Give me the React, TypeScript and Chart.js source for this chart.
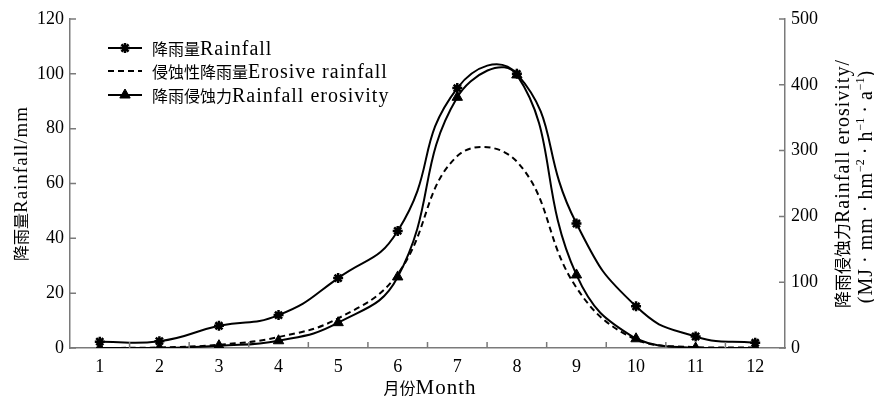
import React, { useEffect, useRef } from 'react';
import { Chart, registerables } from 'chart.js';
import { drawPoint } from 'chart.js/helpers';

Chart.register(...registerables);

// ---------- data ----------
const MONTHS = ['1', '2', '3', '4', '5', '6', '7', '8', '9', '10', '11', '12'];
const RAINFALL = [2.3, 2.5, 8.1, 12.0, 25.5, 42.7, 94.8, 100.0, 45.4, 15.2, 4.2, 1.9];
const EROSIVE_RAINFALL = [0, 0.2, 1.2, 4.0, 10.8, 27.0, 70.0, 68.0, 22.0, 3.0, 0.3, 0.2];
const EROSIVITY = [0, 0, 3.5, 11, 38.5, 108, 381, 415, 111, 14, 0, 0];
const LEFT_TICKS = [0, 20, 40, 60, 80, 100, 120];
const RIGHT_TICKS = [0, 100, 200, 300, 400, 500];
const LEGEND_LABELS = ['降雨量Rainfall', '侵蚀性降雨量Erosive rainfall', '降雨侵蚀力Rainfall erosivity'];
const X_TITLE = '月份Month';
const Y_TITLE = '降雨量Rainfall/mm';
const Y1_TITLE_1 = '降雨侵蚀力Rainfall erosivity/';
const Y1_TITLE_2: { t: string; sup?: boolean }[] = [
  { t: '(MJ\u2009·\u2009mm\u2009·\u2009hm' }, { t: '−2', sup: true }, { t: '\u2009·\u2009h' }, { t: '−1', sup: true },
  { t: '\u2009·\u2009a' }, { t: '−1', sup: true }, { t: ')' },
];

const LAT = "'Liberation Serif', 'Times New Roman', serif";
const CJK = "'Noto Sans CJK SC', sans-serif";
const AXIS_GRAY = '#7a7a7a';
const CJK_RE = /[\u3000-\u9fff\uff00-\uffef]/;

type Seg = { t: string; sup?: boolean };
type Piece = { t: string; font: string; dy: number; ls: number };

function toPieces(segs: Seg[], cjk: number, lat: number, ls: number): Piece[] {
  const out: Piece[] = [];
  for (const s of segs) {
    if (s.sup) {
      out.push({ t: s.t, font: `${Math.round(lat * 0.62)}px ${LAT}`, dy: -lat * 0.4, ls: 0 });
      continue;
    }
    let cur = '';
    let curCjk: boolean | null = null;
    for (const ch of s.t) {
      const c = CJK_RE.test(ch);
      if (curCjk === null || c === curCjk) {
        cur += ch;
        curCjk = c;
      } else {
        out.push({ t: cur, font: curCjk ? `${cjk}px ${CJK}` : `${lat}px ${LAT}`, dy: 0, ls: curCjk ? 0 : ls });
        cur = ch;
        curCjk = c;
      }
    }
    if (cur) out.push({ t: cur, font: curCjk ? `${cjk}px ${CJK}` : `${lat}px ${LAT}`, dy: 0, ls: curCjk ? 0 : ls });
  }
  return out;
}

function drawRuns(ctx: CanvasRenderingContext2D, segs: Seg[], x: number, y: number, cjk: number, lat: number, ls: number, align: 'left' | 'center') {
  const pieces = toPieces(segs, cjk, lat, ls);
  const anyCtx = ctx as any;
  const widths = pieces.map((p) => {
    ctx.font = p.font;
    anyCtx.letterSpacing = `${p.ls}px`;
    return ctx.measureText(p.t).width;
  });
  const total = widths.reduce((a, b) => a + b, 0);
  let cx = align === 'center' ? x - total / 2 : x;
  ctx.textAlign = 'left';
  ctx.textBaseline = 'alphabetic';
  ctx.fillStyle = '#000';
  pieces.forEach((p, i) => {
    ctx.font = p.font;
    anyCtx.letterSpacing = `${p.ls}px`;
    ctx.fillText(p.t, cx, y + p.dy);
    cx += widths[i];
  });
  anyCtx.letterSpacing = '0px';
}

const decorPlugin = {
  id: 'decor',
  afterDraw(chart: any) {
    const ctx: CanvasRenderingContext2D = chart.ctx;
    const area = chart.chartArea;
    const sx = chart.scales.x;
    const sy = chart.scales.y;
    const sy1 = chart.scales.y1;
    ctx.save();

    // inward tick marks
    ctx.strokeStyle = AXIS_GRAY;
    ctx.lineWidth = 1.5;
    const TL = 6;
    ctx.beginPath();
    LEFT_TICKS.forEach((v) => {
      const py = sy.getPixelForValue(v);
      ctx.moveTo(area.left, py);
      ctx.lineTo(area.left + TL, py);
    });
    RIGHT_TICKS.forEach((v) => {
      const py = sy1.getPixelForValue(v);
      ctx.moveTo(area.right, py);
      ctx.lineTo(area.right - TL, py);
    });
    for (let i = 0; i < MONTHS.length - 1; i++) {
      const px = sx.getPixelForValue(i + 0.5);
      ctx.moveTo(px, area.bottom);
      ctx.lineTo(px, area.bottom - TL);
    }
    ctx.stroke();

    // legend
    const rows = [area.top + 29, area.top + 52, area.top + 76];
    const lx0 = area.left + 38;
    const lx1 = area.left + 72;
    chart.data.datasets.forEach((ds: any, i: number) => {
      const y = rows[i];
      ctx.save();
      ctx.strokeStyle = '#000';
      ctx.fillStyle = '#000';
      ctx.lineWidth = ds.borderWidth;
      ctx.setLineDash(ds.borderDash || []);
      ctx.beginPath();
      ctx.moveTo(lx0, y);
      ctx.lineTo(lx1, y);
      ctx.stroke();
      ctx.setLineDash([]);
      if (ds.pointRadius > 0) {
        ctx.lineWidth = ds.pointBorderWidth;
        drawPoint(ctx, { pointStyle: ds.pointStyle, radius: ds.pointRadius, borderWidth: ds.pointBorderWidth, rotation: 0 } as any, (lx0 + lx1) / 2, y);
      }
      ctx.restore();
      drawRuns(ctx, [{ t: LEGEND_LABELS[i] }], area.left + 82, y + 7, 16, 20, 1, 'left');
    });

    // x title
    drawRuns(ctx, [{ t: X_TITLE }], 430, 394, 16, 21, 1, 'center');

    // left y title
    const midY = (area.top + area.bottom) / 2;
    ctx.save();
    ctx.translate(20, midY);
    ctx.rotate(-Math.PI / 2);
    drawRuns(ctx, [{ t: Y_TITLE }], 0, 7, 16, 19, 1, 'center');
    ctx.restore();

    // right y title (two lines)
    ctx.save();
    ctx.translate(842, midY);
    ctx.rotate(-Math.PI / 2);
    drawRuns(ctx, [{ t: Y1_TITLE_1 }], 0, 7, 17, 20, 1, 'center');
    ctx.restore();
    ctx.save();
    ctx.translate(865, midY + 3);
    ctx.rotate(-Math.PI / 2);
    drawRuns(ctx, Y1_TITLE_2, 0, 7, 17, 20, 1, 'center');
    ctx.restore();

    ctx.restore();
  },
};

export default function App() {
  const ref = useRef<HTMLCanvasElement>(null);
  useEffect(() => {
    const tickFont = { family: LAT, size: 18 };
    const chart = new Chart(ref.current!, {
      type: 'line',
      data: {
        labels: MONTHS,
        datasets: [
          {
            label: LEGEND_LABELS[0],
            data: RAINFALL,
            yAxisID: 'y',
            borderColor: '#000',
            backgroundColor: '#000',
            borderWidth: 2,
            pointStyle: 'star',
            pointRadius: 5,
            pointBorderWidth: 2.5,
            pointBorderColor: '#000',
            tension: 0.5,
          },
          {
            label: LEGEND_LABELS[1],
            data: EROSIVE_RAINFALL,
            yAxisID: 'y',
            borderColor: '#000',
            borderWidth: 2,
            borderDash: [6, 4],
            pointRadius: 0,
            tension: 0.42,
          },
          {
            label: LEGEND_LABELS[2],
            data: EROSIVITY,
            yAxisID: 'y1',
            borderColor: '#000',
            backgroundColor: '#000',
            borderWidth: 2,
            pointStyle: 'triangle',
            pointRadius: 6,
            pointBorderWidth: 1,
            pointBackgroundColor: '#000',
            pointBorderColor: '#000',
            tension: 0.45,
          },
        ] as any,
      },
      options: {
        responsive: false,
        animation: false,
        devicePixelRatio: 1,
        layout: { padding: { top: 19, left: 0, right: 0, bottom: 0 } },
        plugins: { legend: { display: false }, tooltip: { enabled: false } },
        scales: {
          x: {
            type: 'category',
            offset: true,
            grid: { display: false, drawTicks: false, tickLength: 0 },
            border: { display: true, color: AXIS_GRAY, width: 1.5 },
            ticks: { color: '#000', font: tickFont, padding: 8, maxRotation: 0, autoSkip: false },
            afterFit: (s: any) => { s.height = 52; },
          },
          y: {
            position: 'left',
            min: 0,
            max: 120,
            grid: { display: false, drawTicks: false, tickLength: 0 },
            border: { display: true, color: AXIS_GRAY, width: 1.5 },
            ticks: { color: '#000', font: tickFont, padding: 6, stepSize: 20 },
            afterFit: (s: any) => { s.width = 70; },
          },
          y1: {
            position: 'right',
            min: 0,
            max: 500,
            grid: { display: false, drawTicks: false, tickLength: 0 },
            border: { display: true, color: AXIS_GRAY, width: 1.5 },
            ticks: { color: '#000', font: tickFont, padding: 6, stepSize: 100 },
            afterFit: (s: any) => { s.width = 89; },
          },
        },
      } as any,
      plugins: [decorPlugin],
    });
    return () => chart.destroy();
  }, []);
  return (
    <div style={{ position: 'fixed', left: 0, top: 0, width: 874, height: 400, background: '#fff' }}>
      <canvas ref={ref} width={874} height={400} style={{ width: 874, height: 400, display: 'block' }} />
    </div>
  );
}
